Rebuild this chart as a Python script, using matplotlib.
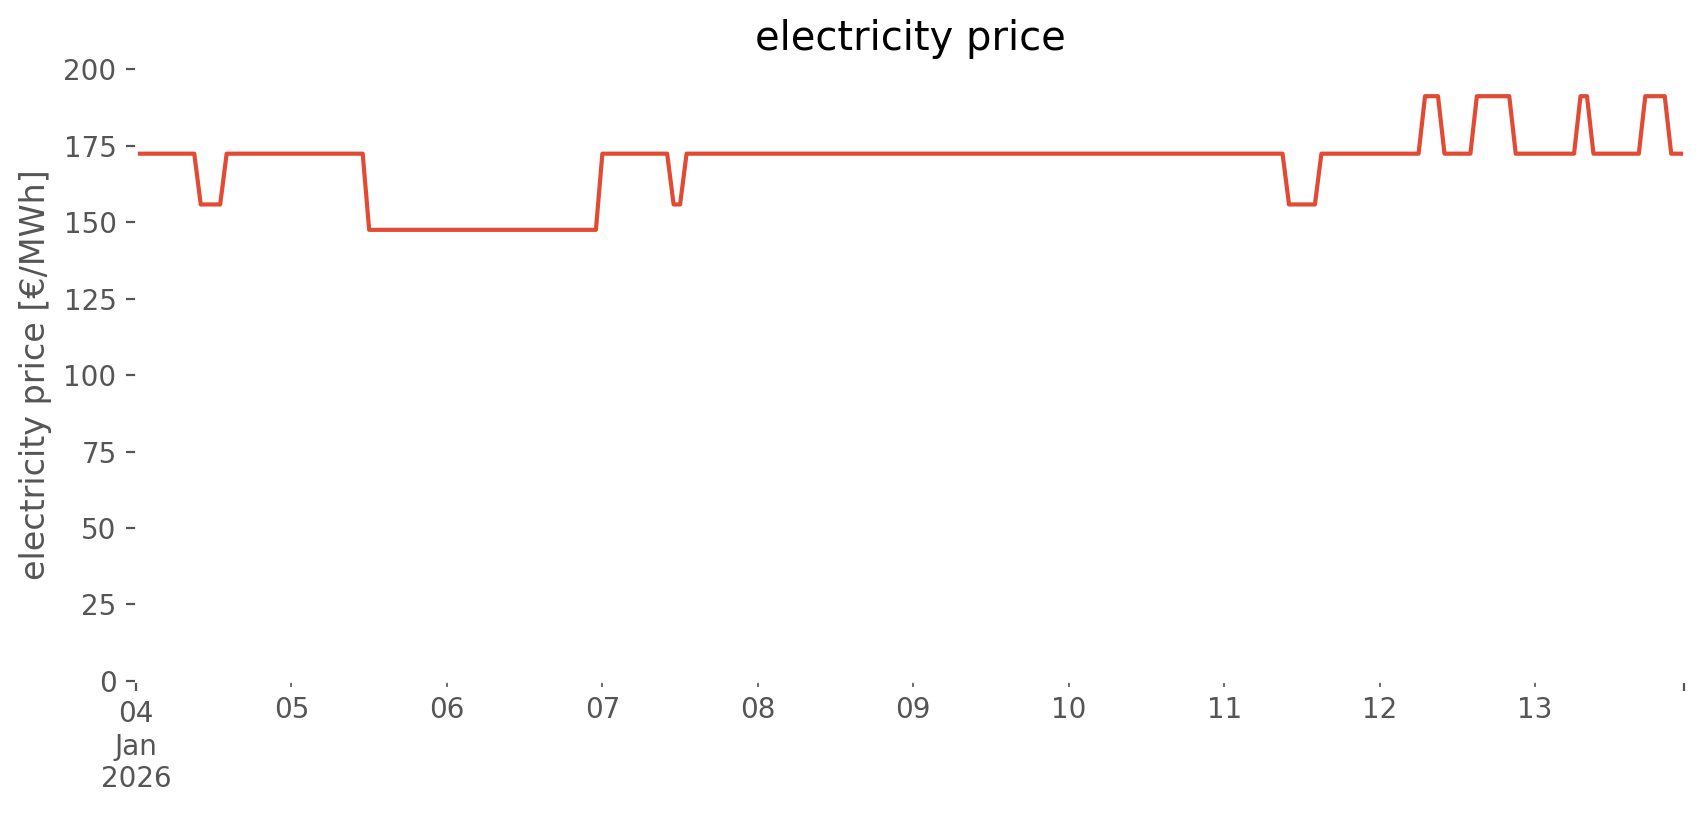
import numpy as np
import pandas as pd
import matplotlib
matplotlib.use('Agg')
import matplotlib.pyplot as plt

# price levels in EUR/MWh and how many hours each one lasts (hourly data from 04 Jan 2026)
start_time = '2026-01-04 00:00'
price_levels = [172.4, 155.8, 172.4, 147.5, 172.4, 155.8, 172.4, 155.8, 172.4,
                191.2, 172.4, 191.2, 172.4, 191.2, 172.4, 191.2, 172.4]
level_hours = [10, 4, 22, 36, 11, 2, 93, 5, 16,
               3, 5, 6, 10, 2, 8, 4, 3]

title = 'electricity price'
ylabel = 'electricity price [€/MWh]'

plt.style.use('ggplot')

prices = np.repeat(price_levels, level_hours)
index = pd.date_range(start_time, periods=len(prices), freq='h')
price_series = pd.Series(prices, index=index)

fig = plt.figure(figsize=(8.53, 4.075), dpi=200)
ax = fig.add_axes([0.0797, 0.1645, 0.9075, 0.7505])
price_series.plot(ax=ax, linewidth=1.5)

ax.set_facecolor('white')
ax.grid(False)
ax.set_ylim(0, 200)
ax.set_title(title, fontsize=14.4, pad=6.8)
ax.set_ylabel(ylabel, fontsize=12)
ax.set_xlabel('')

fig.savefig('out.png', dpi=200, facecolor='white')
